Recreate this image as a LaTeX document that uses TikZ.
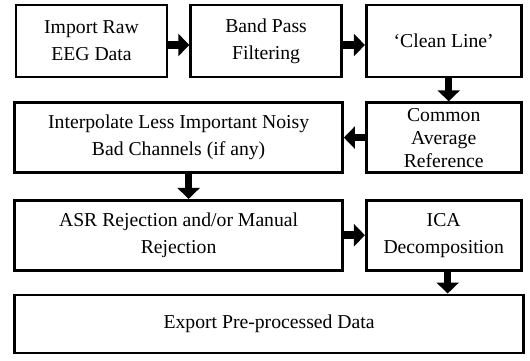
\documentclass[tikz,border=0pt]{standalone}
\usepackage{fontspec}
\setmainfont{Liberation Serif}
\usepackage{tikz}
\usetikzlibrary{arrows.meta, positioning}
\tikzset{
  stage/.style={rectangle, draw=black, fill=white, line width=2.6pt,
    align=center, inner sep=0pt, font=\fontsize{19.7}{27}\selectfont},
  smallstage/.style={stage, minimum width=155pt, minimum height=72pt},
  widestage/.style={stage, minimum width=328pt, minimum height=70pt},
  fatarrow/.style={line width=7.5pt, -{Triangle[length=11pt, width=22pt]}}
}
\begin{document}
\begin{tikzpicture}[node distance=24pt and 22pt]
  \useasboundingbox (0pt,0pt) rectangle (530pt,-360pt);
  \node[smallstage, minimum width=151pt] (raw) at (91.5pt,-41pt) {Import Raw\\EEG Data};
  \node[smallstage, minimum width=151pt, right=21pt of raw] (band) {Band Pass\\Filtering};
  \node[smallstage, right=22pt of band] (clean) {‘Clean Line’};
  \node[smallstage, below=23pt of clean, minimum height=70pt,
    font=\fontsize{19.7}{23}\selectfont] (car) {Common\\Average\\Reference};
  \node[widestage, left=21pt of car] (interp) {Interpolate Less Important Noisy\\Bad Channels (if any)};
  \node[widestage, below=25pt of interp] (asr) {ASR Rejection and/or Manual\\Rejection};
  \node[smallstage, right=21pt of asr, minimum height=70pt] (ica) {ICA\\Decomposition};
  \node[stage, minimum width=509pt, minimum height=58pt,
    below=22pt of asr.south west, anchor=north west] (export) {Export Pre-processed Data};

  \draw[fatarrow] ([yshift=-4pt]raw.east) -- ([yshift=-4pt]band.west);
  \draw[fatarrow] ([yshift=-4pt]band.east) -- ([yshift=-4pt]clean.west);
  \draw[fatarrow] ([xshift=5pt]clean.south) -- ([xshift=5pt]car.north);
  \draw[fatarrow] (car) -- (interp);
  \draw[fatarrow] ([xshift=10pt]interp.south) -- ([xshift=10pt]asr.north);
  \draw[fatarrow] (asr) -- (ica);
  \draw[fatarrow] ([xshift=4pt]ica.south) -- ([xshift=4pt]ica.south |- export.north);
\end{tikzpicture}
\end{document}
